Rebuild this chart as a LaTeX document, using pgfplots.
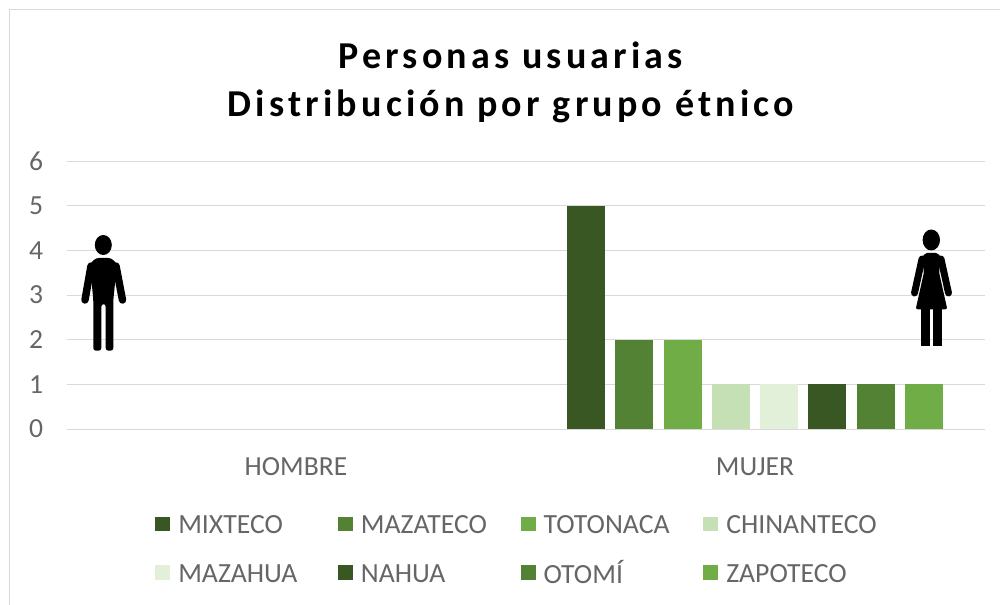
\documentclass[border=0pt]{standalone}
\usepackage{fontspec}
\usepackage{pgfplots}
\pgfplotsset{compat=1.18}
\setmainfont{Carlito}
\newfontfamily\titlefont[LetterSpace=11,BoldFont=Carlito Bold]{Carlito}
\definecolor{Dark}{HTML}{385723}
\definecolor{Mid}{HTML}{548235}
\definecolor{Green}{HTML}{70AD47}
\definecolor{Pale}{HTML}{C5E0B4}
\definecolor{Paler}{HTML}{E2F0D9}
\definecolor{Txt}{HTML}{666666}
\definecolor{Grid}{HTML}{D9D9D9}
\newcommand{\leg}[1]{\hspace*{4pt}\rule[-4pt]{0pt}{20pt}\makebox[117.75pt][l]{#1}}
\begin{document}
\begin{tikzpicture}
% page is 1000x605 px, 1 px = 0.75 pt, top left at (0,0)
\path[use as bounding box] (0pt,0pt) rectangle (750pt,-453.75pt);
\draw[Grid, line width=0.9pt] (7pt,-453.75pt) -- (7pt,-7pt) -- (750pt,-7pt);
\begin{axis}[
    at={(49.875pt,-321.75pt)}, anchor=south west,
    scale only axis, width=688.5pt, height=201pt,
    xmin=-0.5, xmax=1.5, ymin=0, ymax=6,
    xtick={0,1}, xticklabels={HOMBRE,MUJER},
    ytick={0,1,2,3,4,5,6},
    /pgf/number format/assume math mode=true,
    tick style={draw=none},
    axis line style={draw=none},
    ymajorgrids, major grid style={Grid, line width=0.75pt},
    tick label style={font=\fontsize{20.7}{22}\selectfont, text=Txt},
    xticklabel style={yshift=-14pt},
    yticklabel style={xshift=-14pt},
    ybar=7.7pt, bar width=28.5pt,
    title={\titlefont\bfseries Personas usuarias\\[2pt]\titlefont\bfseries Distribución por grupo étnico},
    title style={font=\fontsize{28.5}{34}\selectfont, align=center, anchor=center,
        at={(axis description cs:0.484,1.265)}},
    legend style={at={(axis description cs:0.0964,-0.30)}, anchor=north west,
        draw=none, fill=none, inner sep=0pt, legend columns=4,
        font=\fontsize{20.8}{22}\selectfont, text=Txt, row sep=14.5pt,
        legend cell align=left},
    legend image code/.code={\fill[#1,draw=none] (0pt,-5.6pt) rectangle (11.25pt,5.6pt);},
]
\addplot[fill=Dark, draw=none] coordinates {(1,5)};
\addplot[fill=Mid, draw=none] coordinates {(1,2)};
\addplot[fill=Green, draw=none] coordinates {(1,2)};
\addplot[fill=Pale, draw=none] coordinates {(1,1)};
\addplot[fill=Paler, draw=none] coordinates {(1,1)};
\addplot[fill=Dark, draw=none] coordinates {(1,1)};
\addplot[fill=Mid, draw=none] coordinates {(1,1)};
\addplot[fill=Green, draw=none] coordinates {(1,1)};
\addlegendentry{\leg{MIXTECO}}
\addlegendentry{\leg{MAZATECO}}
\addlegendentry{\leg{TOTONACA}}
\addlegendentry{\leg{CHINANTECO}}
\addlegendentry{\leg{MAZAHUA}}
\addlegendentry{\leg{NAHUA}}
\addlegendentry{\leg{OTOMÍ}}
\addlegendentry{\leg{ZAPOTECO}}
\end{axis}
% pictograms, in reference pixels
\begin{scope}[x=0.75pt,y=-0.75pt]
\fill (103.3,245) ellipse (8.5 and 10);
\fill[rounded corners=2pt] (93.3,350.7) -- (93.3,300) -- (90,264) -- (96,258) -- (111,258) -- (117,264)
    -- (113.3,300) -- (113.3,350.7) -- (105.7,350.7) -- (105.7,304) -- (101.3,304) -- (101.3,350.7) -- cycle;
\draw[line width=5.6pt, line cap=round] (91,266) -- (85,300);
\draw[line width=5.6pt, line cap=round] (116,266) -- (122.5,300);
\fill (931.3,240) ellipse (8.7 and 10.5);
\fill[rounded corners=1.5pt] (925,253) -- (938,253) -- (941,258) -- (939,272) -- (947.3,309.3) -- (915.7,309.3) -- (924,272) -- (922,258) -- cycle;
\fill (921,305) rectangle (930,346);
\fill (933.3,305) rectangle (941.7,346);
\draw[line width=5.2pt, line cap=round] (922,259) -- (914.5,293);
\draw[line width=5.2pt, line cap=round] (941,259) -- (948.5,293);
\end{scope}
\end{tikzpicture}
\end{document}
